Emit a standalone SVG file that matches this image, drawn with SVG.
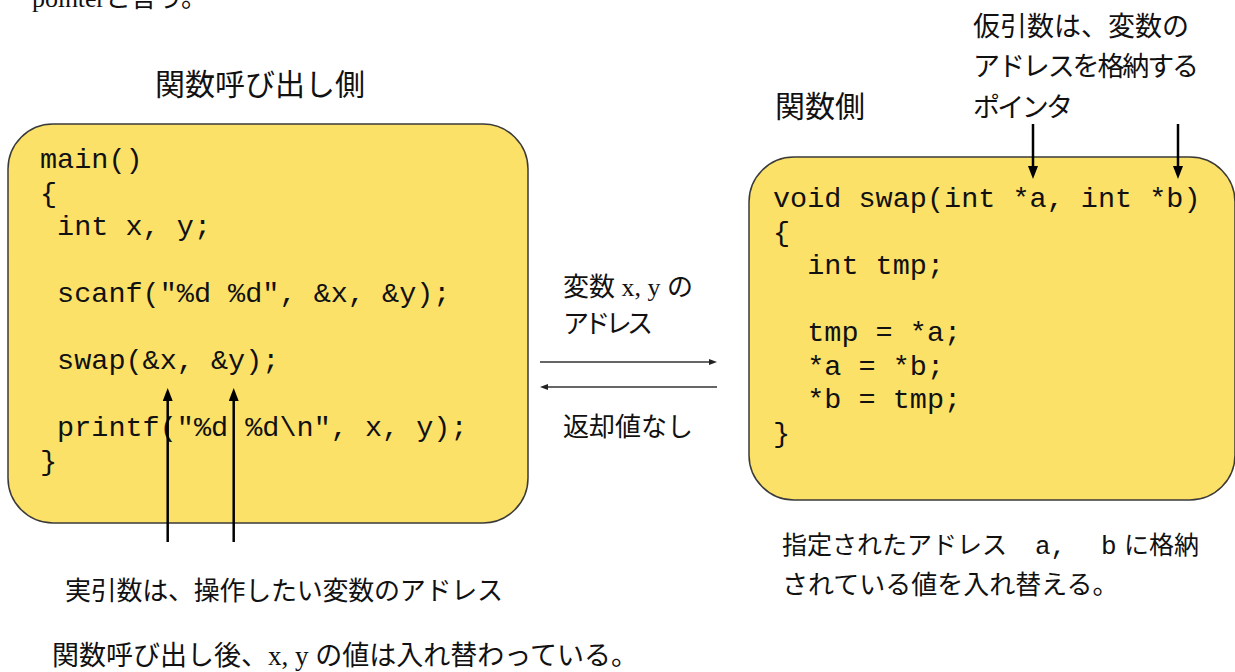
<svg xmlns="http://www.w3.org/2000/svg" width="1235" height="672" viewBox="0 0 1235 672">
<style>
.box{fill:#FCE168;stroke:#3a3a3a;stroke-width:1.5}
.code{font-family:"Liberation Mono","DejaVu Sans Mono",monospace;font-size:28.5px;fill:#111}
.jp{font-family:"Noto Sans CJK JP","Noto Sans",sans-serif;fill:#111}
.ser{font-family:"Liberation Serif","Noto Sans CJK JP",serif}
.mono{font-family:"Liberation Mono",monospace}
.big{font-size:30px}
.mid{font-size:27px}
.sm{font-size:26px}
.thick{stroke:#000;stroke-width:2.5;fill:none}
.thin{stroke:#333;stroke-width:1.3;fill:none}
</style>
<defs>
<marker id="ah" viewBox="0 0 13 10" refX="3" refY="5" markerWidth="13" markerHeight="10" markerUnits="userSpaceOnUse" orient="auto">
<path d="M0,0 L13,5 L0,10 z" fill="#000"/>
</marker>
<marker id="ahs" viewBox="0 0 8 6" refX="2" refY="3" markerWidth="8" markerHeight="6" markerUnits="userSpaceOnUse" orient="auto">
<path d="M0,0 L8,3 L0,6 z" fill="#222"/>
</marker>
</defs>

<text class="ser" x="32" y="7" font-size="26" fill="#111" textLength="175" lengthAdjust="spacing">pointer<tspan class="jp">と言う。</tspan></text>

<g id="caller">
<rect class="box" x="8" y="124" width="520" height="399" rx="45" ry="45"/>
<text class="code" x="40" y="168">main()</text>
<text class="code" x="40" y="201.5">{</text>
<text class="code" x="57.1" y="235">int x, y;</text>
<text class="code" x="57.1" y="302">scanf("%d %d", &amp;x, &amp;y);</text>
<text class="code" x="57.1" y="369">swap(&amp;x, &amp;y);</text>
<text class="code" x="57.1" y="436">printf("%d %d\n", x, y);</text>
<text class="code" x="40" y="469.5">}</text>
</g>

<g id="callee">
<rect class="box" x="749" y="157" width="486" height="343" rx="45" ry="45"/>
<text class="code" x="773" y="207">void swap(int *a, int *b)</text>
<text class="code" x="773" y="240.5">{</text>
<text class="code" x="807.2" y="274">int tmp;</text>
<text class="code" x="807.2" y="341">tmp = *a;</text>
<text class="code" x="807.2" y="374.5">*a = *b;</text>
<text class="code" x="807.2" y="408">*b = tmp;</text>
<text class="code" x="773" y="441.5">}</text>
</g>

<g id="label-caller"><text class="jp big" x="155" y="95">関数呼び出し側</text></g>
<g id="label-callee"><text class="jp big" x="775" y="117">関数側</text></g>
<g id="label-param">
<text class="jp mid" x="973" y="36">仮引数は、変数の</text>
<text class="jp mid" x="973" y="76" textLength="226" lengthAdjust="spacing">アドレスを格納する</text>
<text class="jp mid" x="973" y="117" textLength="100" lengthAdjust="spacing">ポインタ</text>
</g>
<g id="label-send">
<text class="jp sm" x="563" y="296">変数<tspan class="ser"> x, y </tspan>の</text>
<text class="jp sm" x="563" y="333" textLength="90" lengthAdjust="spacing">アドレス</text>
</g>
<g id="label-return"><text class="jp sm" x="563" y="436">返却値なし</text></g>
<g id="label-actual"><text class="jp sm" x="65" y="600" textLength="438" lengthAdjust="spacing">実引数は、操作したい変数のアドレス</text></g>
<g id="label-swap">
<text class="jp" font-size="25" x="782" y="554">指定されたアドレス<tspan class="mono" font-size="26" x="1035">a,</tspan><tspan class="mono" font-size="26" x="1101">b</tspan><tspan x="1124">に格納</tspan></text>
<text class="jp sm" x="782" y="594">されている値を入れ替える。</text>
</g>
<g id="label-result"><text class="jp mid" x="52" y="665">関数呼び出し後、<tspan class="ser">x, y </tspan>の値は入れ替わっている。</text></g>

<g id="connectors">
<line class="thick" x1="167.7" y1="542" x2="167.7" y2="398" marker-end="url(#ah)"/>
<line class="thick" x1="233.7" y1="542" x2="233.7" y2="398" marker-end="url(#ah)"/>
<line class="thick" x1="1033" y1="124" x2="1033" y2="169" marker-end="url(#ah)"/>
<line class="thick" x1="1178" y1="124" x2="1178" y2="169" marker-end="url(#ah)"/>
<line class="thin" x1="540" y1="362" x2="711" y2="362" marker-end="url(#ahs)"/>
<line class="thin" x1="717" y1="387" x2="546" y2="387" marker-end="url(#ahs)"/>
</g>
</svg>
